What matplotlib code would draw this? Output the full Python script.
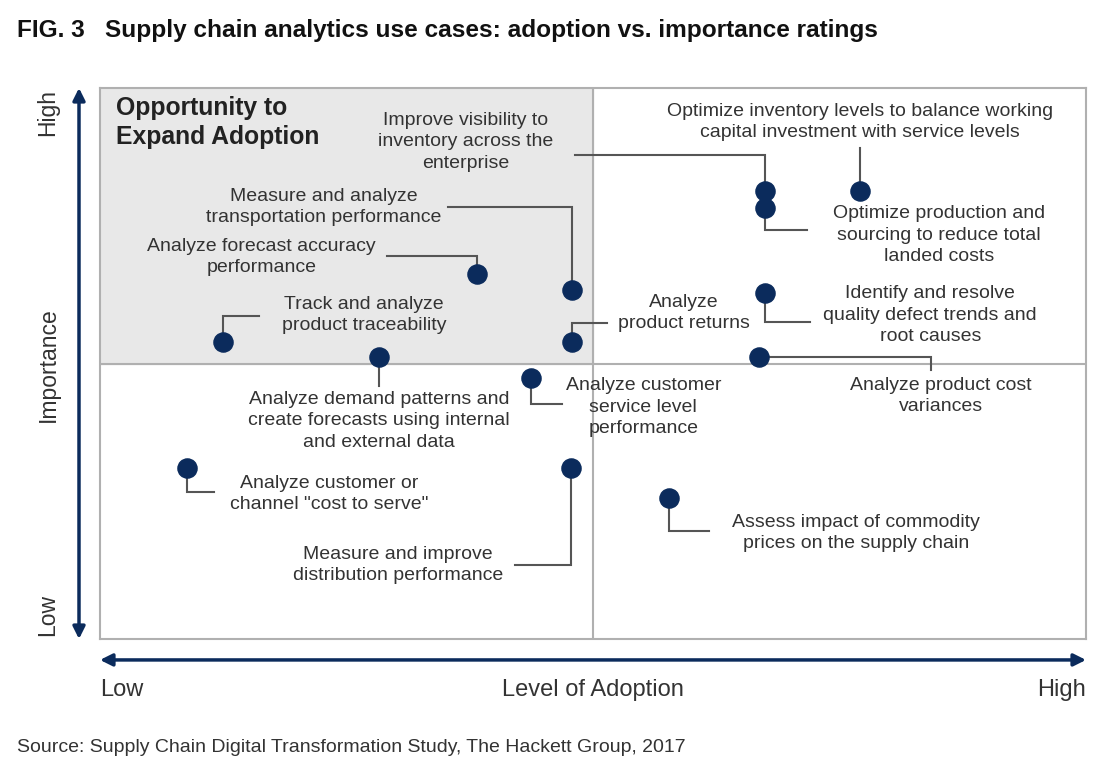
import matplotlib
matplotlib.use("Agg")
import matplotlib.pyplot as plt

plt.rcParams['font.family'] = ['Liberation Sans', 'DejaVu Sans']

# use cases with adoption (x) and importance (y) scores, 0-10 scale, 5 = midpoint
use_cases = [
    "Improve visibility to\ninventory across the\nenterprise",
    "Optimize inventory levels to balance working\ncapital investment with service levels",
    "Optimize production and\nsourcing to reduce total\nlanded costs",
    "Analyze forecast accuracy\nperformance",
    "Measure and analyze\ntransportation performance",
    "Identify and resolve\nquality defect trends and\nroot causes",
    "Track and analyze\nproduct traceability",
    "Analyze\nproduct returns",
    "Analyze demand patterns and\ncreate forecasts using internal\nand external data",
    "Analyze product cost\nvariances",
    "Analyze customer\nservice level\nperformance",
    "Analyze customer or\nchannel \"cost to serve\"",
    "Measure and improve\ndistribution performance",
    "Assess impact of commodity\nprices on the supply chain",
]
adoption = [6.74, 7.71, 6.74, 3.82, 4.79, 6.74, 1.25, 4.79, 2.83, 6.68, 4.37, 0.88, 4.78, 5.77]
importance = [8.13, 8.13, 7.82, 6.62, 6.33, 6.28, 5.39, 5.39, 5.12, 5.12, 4.74, 3.10, 3.10, 2.56]

# layout: label centre and leader elbow points (after the dot)
label_pos = [(3.71, 9.02), (7.71, 9.38), (8.51, 7.33), (1.64, 6.93), (2.27, 7.84),
             (8.42, 5.88), (2.68, 5.88), (5.92, 5.92), (2.83, 3.96), (8.53, 4.41),
             (5.51, 4.21), (2.32, 2.63), (3.02, 1.34), (7.67, 1.92)]
leaders = [
    [(None, 8.78), (4.82, None)],
    [(None, 8.91)],
    [(None, 7.42), (7.17, None)],
    [(None, 6.95), (2.91, None)],
    [(None, 7.84), (3.53, None)],
    [(None, 5.75), (7.20, None)],
    [(None, 5.86), (1.61, None)],
    [(None, 5.74), (5.14, None)],
    [(None, 4.59)],
    [(8.43, None), (None, 4.88)],
    [(None, 4.26), (4.69, None)],
    [(None, 2.67), (1.16, None)],
    [(None, 1.34), (4.21, None)],
    [(None, 1.96), (6.18, None)],
]

navy = '#0b2b5c'
grid_grey = '#b0b0b0'
text_col = '#333333'

fig = plt.figure(figsize=(11.09, 7.67), dpi=100)
W, H = 1109, 767
ax = fig.add_axes([100 / W, (H - 639) / H, 986 / W, 551 / H])
ax.set_xlim(0, 10)
ax.set_ylim(0, 10)
ax.set_xticks([])
ax.set_yticks([])
for s in ax.spines.values():
    s.set_color(grid_grey)
    s.set_linewidth(1.5)

# shaded quadrant + dividers
ax.fill_between([0, 5], 5, 10, color='#e8e8e8', zorder=0)
ax.axvline(5, color=grid_grey, lw=1.5, zorder=1)
ax.axhline(5, color=grid_grey, lw=1.5, zorder=1)

ax.text(0.16, 9.85, "Opportunity to\nExpand Adoption", fontsize=17.8, fontweight='bold',
        color='#222222', ha='left', va='top', linespacing=1.25)

# leader lines
for i in range(len(use_cases)):
    x, y = adoption[i], importance[i]
    xs, ys = [x], [y]
    for px, py in leaders[i]:
        x = px if px is not None else x
        y = py if py is not None else y
        xs.append(x)
        ys.append(y)
    ax.plot(xs, ys, color='#555555', lw=1.5, zorder=2, solid_joinstyle='miter')

ax.scatter(adoption, importance, s=190, color=navy, zorder=3)

for name, (lx, ly) in zip(use_cases, label_pos):
    ax.text(lx, ly, name, fontsize=14, color=text_col, ha='center', va='center',
            linespacing=1.33, zorder=4)

# axis arrows
ax.annotate('', xy=(-0.0213, 1.0), xytext=(-0.0213, 0.0), xycoords='axes fraction',
            arrowprops=dict(arrowstyle='<|-|>', color=navy, lw=2.5, mutation_scale=18,
                            shrinkA=0, shrinkB=0))
ax.annotate('', xy=(1.0, -0.038), xytext=(0.0, -0.038), xycoords='axes fraction',
            arrowprops=dict(arrowstyle='<|-|>', color=navy, lw=2.5, mutation_scale=18,
                            shrinkA=0, shrinkB=0))

# axis words
fig.text(48 / W, 1 - 112 / H, "High", rotation=90, fontsize=16.5, color=text_col, ha='center', va='center')
fig.text(48 / W, 1 - 365 / H, "Importance", rotation=90, fontsize=16.5, color=text_col, ha='center', va='center')
fig.text(48 / W, 1 - 615 / H, "Low", rotation=90, fontsize=16.5, color=text_col, ha='center', va='center')
fig.text(100 / W, 1 - 690 / H, "Low", fontsize=17, color=text_col, ha='left', va='center')
fig.text(593 / W, 1 - 690 / H, "Level of Adoption", fontsize=17, color=text_col, ha='center', va='center')
fig.text(1086 / W, 1 - 690 / H, "High", fontsize=17, color=text_col, ha='right', va='center')

fig.text(17 / W, 1 - 30 / H, "FIG. 3   Supply chain analytics use cases: adoption vs. importance ratings",
         fontsize=17.6, fontweight='bold', color='#111111', ha='left', va='center')
fig.text(17 / W, 1 - 748 / H, "Source: Supply Chain Digital Transformation Study, The Hackett Group, 2017",
         fontsize=14, color=text_col, ha='left', va='center')

fig.savefig('out.png', dpi=100)
